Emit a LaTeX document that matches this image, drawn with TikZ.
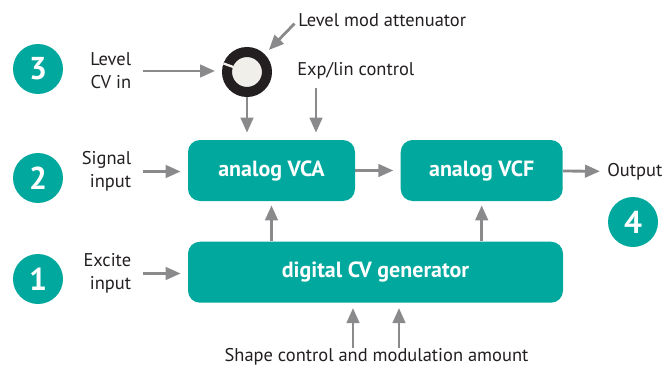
\documentclass[tikz,border=0pt]{standalone}
\usepackage{fontspec}
\setmainfont{PT Sans}
\usetikzlibrary{arrows.meta, positioning, calc}
\definecolor{synthTeal}{RGB}{0, 168, 157}
\definecolor{synthGray}{RGB}{138, 138, 140}
\definecolor{knobBlack}{RGB}{35, 31, 32}
\definecolor{knobFace}{RGB}{240, 239, 234}

\begin{document}
\begin{tikzpicture}[
        node distance=0.9cm,
        box/.style={rectangle, rounded corners=0.24cm, fill=synthTeal, text=white, minimum height=1.22cm, align=center, font=\fontsize{12.5}{14}\selectfont\bfseries},
        badge/.style={circle, fill=synthTeal, text=white, minimum size=1cm, inner sep=0pt, font=\fontsize{18}{18}\selectfont\bfseries},
        sidetext/.style={align=right, inner sep=0pt, text=knobBlack, font=\fontsize{10.5}{13}\selectfont},
        plaintext/.style={inner sep=0pt, text=knobBlack, font=\fontsize{10.5}{13}\selectfont},
        arrow/.style={-{Triangle[length=0.3cm, width=0.25cm]}, line width=1.6pt, synthGray, shorten >=0.14cm}
    ]
        \useasboundingbox (0,0) rectangle (13.3,-7.36);

        % Processing blocks
        \node[box, minimum width=3.34cm] (vca) at (5.43,-3.41) {analog VCA};
        \node[box, minimum width=3.24cm, right=0.9cm of vca] (vcf) {analog VCF};
        \node[box, minimum width=7.5cm, below=0.8cm of vca.south west, anchor=north west] (cvgen) {digital CV generator};

        % Attenuator knob
        \node[circle, fill=knobFace, draw=knobBlack, line width=0.2cm, minimum size=0.8cm, inner sep=0pt] (knob) at (4.94,-1.44) {};
        \draw[knobFace, line width=1.3pt] ($(knob.center)+(160:0.29)$) -- ($(knob.center)+(160:0.5)$);

        % Numbered badges
        \node[badge] (n3) at (0.76,-1.38) {3};
        \node[badge] (n2) at (0.76,-3.56) {2};
        \node[badge] (n1) at (0.76,-5.58) {1};
        \node[badge] (n4) at (12.66,-4.44) {4};

        % Input and control texts
        \node[sidetext, anchor=east] (lvlin) at (2.63,-1.42) {Level\\CV in};
        \node[sidetext, anchor=east] (sigin) at (2.63,-3.43) {Signal\\input};
        \node[sidetext, anchor=east] (excin) at (2.63,-5.47) {Excite\\input};
        \node[plaintext, anchor=west] (attn) at (5.96,-0.4) {Level mod attenuator};
        \node[plaintext, anchor=west] (explin) at (5.94,-1.41) {Exp/lin control};
        \node[plaintext, anchor=west] (out) at (12.14,-3.43) {Output};
        \node[plaintext] (shape) at (7.53,-7.14) {Shape control and modulation amount};
        \coordinate (expdrop) at (6.32,-1.76);
        \coordinate (shpA) at (7.06,-6.96);
        \coordinate (shpB) at (7.98,-6.96);

        % Arrows
        \draw[arrow, shorten <=0.22cm] (lvlin.east) -- (lvlin.east -| knob.west);
        \draw[arrow, shorten <=0.1cm, shorten >=0.12cm] (attn.west) -- (knob.north east);
        \draw[arrow] (knob.south) -- (knob.south |- vca.north);
        \draw[arrow] (expdrop) -- (expdrop |- vca.north);
        \draw[arrow, shorten <=0.22cm] (sigin.east) -- (sigin.east -| vca.west);
        \draw[arrow] (vca) -- (vcf);
        \draw[arrow] (vcf) -- (out);
        \draw[arrow, shorten <=0.22cm] (excin.east) -- (excin.east -| cvgen.west);
        \draw[arrow, shorten >=0.08cm] (vca.south |- cvgen.north) -- (vca.south);
        \draw[arrow, shorten >=0.08cm] (vcf.south |- cvgen.north) -- (vcf.south);
        \draw[arrow, shorten >=0.1cm] (shpA) -- (shpA |- cvgen.south);
        \draw[arrow, shorten >=0.1cm] (shpB) -- (shpB |- cvgen.south);
    \end{tikzpicture}
\end{document}
